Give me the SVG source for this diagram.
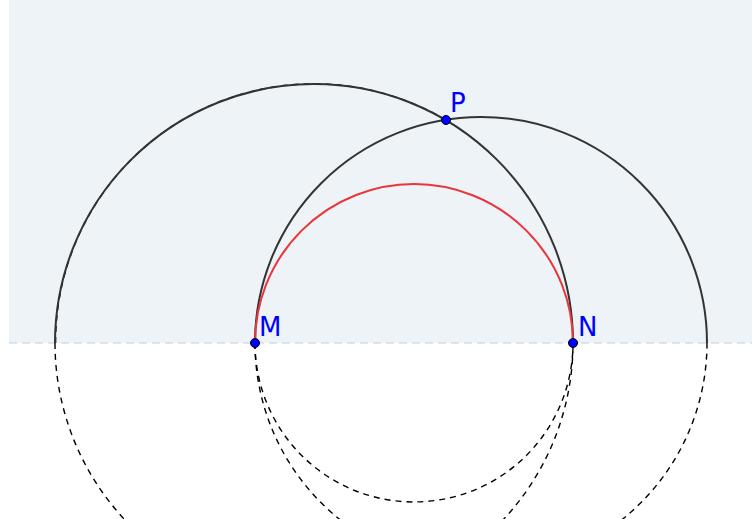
<svg xmlns="http://www.w3.org/2000/svg" width="752" height="519" viewBox="0 0 752 519">
<style>
.solid{fill:none;stroke:#333;stroke-width:2}
.red{fill:none;stroke:#e8363a;stroke-width:2}
.dash{fill:none;stroke:#000;stroke-width:1.4;stroke-dasharray:6 5}
.pt{fill:#0000ff;stroke:#000;stroke-width:1}
.lbl{font-family:"DejaVu Sans",sans-serif;font-size:26px;fill:#0000ff}
</style>
<rect x="9" y="0" width="743" height="343" fill="#eef3f7"/>
<line x1="9" y1="343" x2="752" y2="343" stroke="#bccfe0" stroke-width="1.2" stroke-dasharray="8 5"/>
<g id="connectors">
<path class="dash" d="M55 343 A259 259 0 0 0 573 343"/>
<path class="dash" d="M255 343 A226 226 0 0 0 707 343"/>
<path class="dash" d="M255 343 A159 159 0 0 0 573 343"/>
<path class="dash" d="M55.6 343 A258.5 258.5 0 0 1 446 120"/>
<path class="solid" d="M55 343 A259 259 0 0 1 573 343"/>
<path class="solid" d="M255 343 A226 226 0 0 1 707 343"/>
<path class="red" d="M255 343 A159 159 0 0 1 573 343"/>
</g>
<g id="M"><circle class="pt" cx="255" cy="343" r="4.5"/><text class="lbl" x="259" y="336">M</text></g>
<g id="N"><circle class="pt" cx="573" cy="343" r="4.5"/><text class="lbl" x="578" y="336">N</text></g>
<g id="P"><circle class="pt" cx="446" cy="120" r="4.5"/><text class="lbl" x="450" y="112">P</text></g>
</svg>
